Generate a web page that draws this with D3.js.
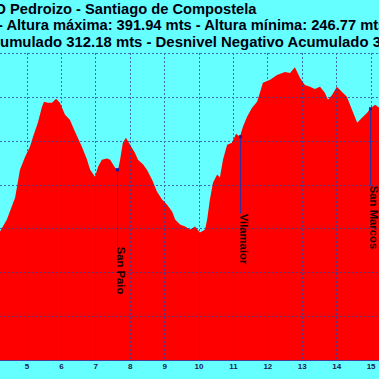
<!DOCTYPE html>
<html><head><meta charset="utf-8">
<script src="https://cdn.jsdelivr.net/npm/d3@7"></script>
<style>html,body{margin:0;padding:0;background:#66ffff;overflow:hidden}svg{display:block}</style>
</head><body>
<script>
const titleLines = [
  "O Pedroizo - Santiago de Compostela",
  "- Altura máxima: 391.94 mts - Altura mínima: 246.77 mts",
  "Acumulado 312.18 mts - Desnivel Negativo Acumulado 3"
];
const kmTicks = [5,6,7,8,9,10,11,12,13,14,15];
const elevGrid = [250,275,300,325,350,375,400];
const km = [4.23,4.43,4.67,4.81,4.96,5.10,5.19,5.33,5.45,5.51,5.62,5.74,5.86,5.97,6.12,6.26,6.41,6.61,6.76,6.85,6.99,7.08,7.19,7.34,7.43,7.57,7.66,7.72,7.80,7.89,8.01,8.15,8.24,8.39,8.50,8.65,8.79,8.94,9.08,9.23,9.32,9.46,9.61,9.75,9.90,10.04,10.19,10.25,10.33,10.42,10.54,10.62,10.71,10.83,10.97,11.09,11.20,11.29,11.41,11.55,11.70,11.79,11.87,12.08,12.28,12.51,12.66,12.80,12.95,13.09,13.24,13.38,13.53,13.67,13.76,13.88,14.02,14.17,14.31,14.46,14.61,14.75,14.90,14.98,15.13,15.25];
const elev = [298.3,305.1,317.6,333.5,340.9,346.6,352.3,360.2,369.3,372.2,371.6,371.6,373.9,371.6,364.8,361.9,355.1,346.6,339.2,333.5,329.5,335.2,339.2,339.8,339.2,334.7,333.5,339.2,348.9,351.7,347.7,343.2,339.2,336.4,333.5,327.8,321.0,316.5,313.6,309.7,305.1,302.3,301.1,299.4,301.1,297.7,299.4,305.1,316.5,326.1,330.7,329.0,339.2,347.7,348.9,354.0,352.3,358.0,363.6,368.7,372.2,377.8,383.0,384.7,387.5,389.2,388.6,391.9,385.8,381.8,380.7,379.5,380.7,377.3,373.3,376.1,380.7,377.8,375.0,367.6,360.2,363.1,365.9,368.2,370.5,368.8];
const placeNames = ["San Paio","Vilamaior","San Marcos"];
const placeKm = [7.64,11.20,14.98];
const placeElev = [333.5,352.3,368.2];

const W = 379, H = 379;
const svg = d3.select("body").append("svg").attr("width",W).attr("height",H);
svg.append("rect").attr("width",W).attr("height",H).attr("fill","#66ffff");

const x = d3.scaleLinear().domain([5,15]).range([26.5,370.6]);
const y = d3.scaleLinear().domain([225,400]).range([360,53]);
const data = km.map((k,i)=>({k, e:elev[i]}));

svg.append("path").datum(data)
  .attr("fill","#ff0000")
  .attr("d", d3.area().x(d=>x(d.k)).y0(y(225)).y1(d=>y(d.e)));

// grid
const grid = svg.append("g").attr("stroke","#2a3fa0").attr("stroke-width",1).attr("stroke-dasharray","2,2").attr("opacity",0.75);
grid.selectAll("line.h").data(elevGrid).join("line")
  .attr("x1",0).attr("x2",W).attr("y1",d=>Math.round(y(d))+0.5).attr("y2",d=>Math.round(y(d))+0.5);
grid.selectAll("line.v").data(kmTicks).join("line")
  .attr("y1",y(400)).attr("y2",y(225)).attr("x1",d=>Math.round(x(d))+0.5).attr("x2",d=>Math.round(x(d))+0.5);

// x axis
const ax = svg.append("g").attr("transform",`translate(0,${y(225)})`)
  .call(d3.axisBottom(x).tickValues(kmTicks).tickSize(0).tickPadding(3).tickFormat(d3.format("d")));
ax.select(".domain").attr("stroke","#4a3a9a").attr("stroke-width",1).attr("d",`M0,0.5H${W}`);
ax.selectAll("text").attr("fill","#1a1a50").attr("font-family","Liberation Sans, Arial, sans-serif")
  .attr("font-weight","bold").attr("font-size","8px");

// places
placeNames.forEach((n,i)=>{
  const px = Math.round(x(placeKm[i]))+0.5, py = y(placeElev[i]);
  svg.append("line").attr("x1",px).attr("x2",px).attr("y1",py).attr("y2",py+77)
    .attr("stroke","#3a2a9a").attr("stroke-width",1);
  svg.append("rect").attr("x",px-1.5).attr("y",py-1.5).attr("width",3).attr("height",3).attr("fill","#1a1a9a");
  svg.append("text").text(n)
    .attr("transform",`translate(${px-0.5},${py+77}) rotate(90)`)
    .attr("font-family","Liberation Sans, Arial, sans-serif").attr("font-weight","bold")
    .attr("font-size","11.3px").attr("fill","#1a0000");
});

// titles
const tx = [-5.5,-2,-19], ty = [13.5,29.8,46.5], tfs = [14.7,14.7,14.9];
titleLines.forEach((t,i)=>{
  svg.append("text").text(t).attr("x",tx[i]).attr("y",ty[i])
    .attr("font-family","Liberation Sans, Arial, sans-serif").attr("font-weight","bold")
    .attr("font-size",tfs[i]+"px").attr("fill","#000010");
});
</script>
</body></html>
